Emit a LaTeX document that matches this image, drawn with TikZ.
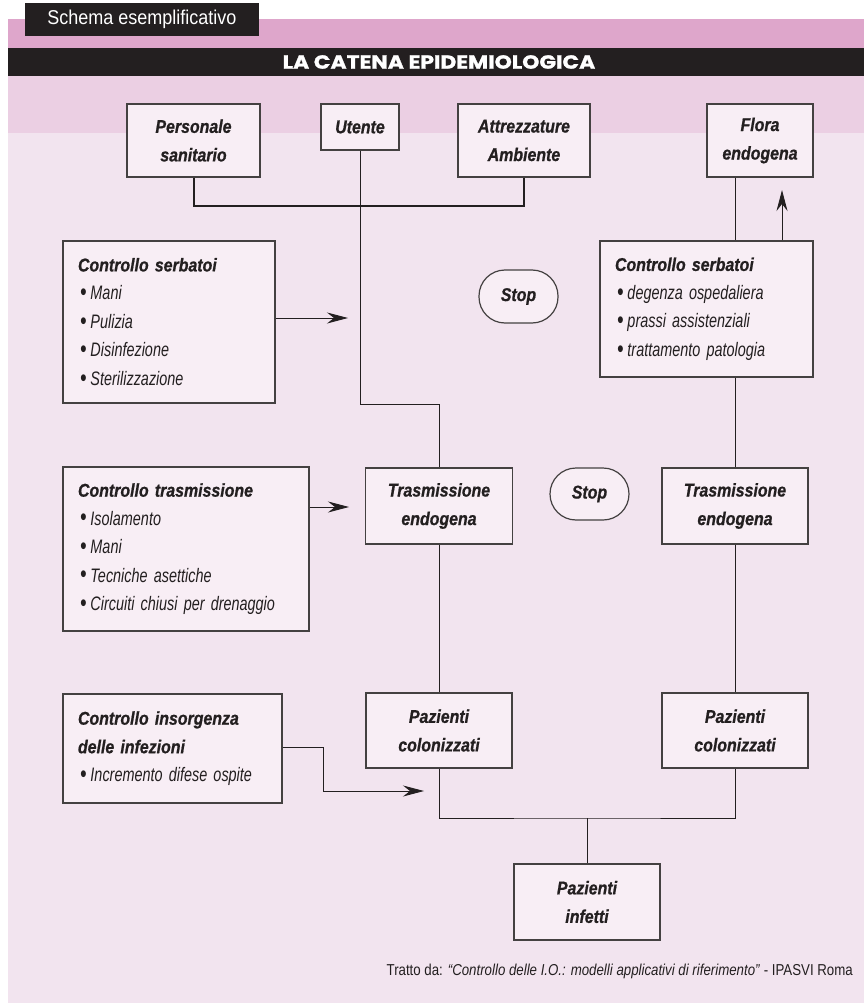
\documentclass[tikz,border=0pt]{standalone}
\usepackage{fontspec}
\setmainfont{Liberation Sans}
\newfontfamily\boxfont{Liberation Sans}[FakeStretch=0.86,FakeBold=0.8]
\newfontfamily\lightfont{Liberation Sans}[FakeStretch=0.74]
\newfontfamily\notefont{Liberation Sans}[FakeStretch=0.84]
\newfontfamily\schemafont{Liberation Sans}[FakeStretch=0.9]
\newfontfamily\headfont{Poppins}[FakeStretch=1.15,FakeBold=1.2]
\usetikzlibrary{arrows.meta}
\definecolor{ink}{HTML}{231F20}
\definecolor{bandpink}{HTML}{DEA6CB}
\definecolor{strippink}{HTML}{EBCFE3}
\definecolor{areapink}{HTML}{F2E4EF}
\definecolor{boxpink}{HTML}{F8EEF5}
\newcommand{\voce}[1]{\\\hspace*{2pt}{\lightfont\mdseries\fontsize{19.5}{28.5}\selectfont\raisebox{-0.6pt}{\fontsize{25}{0}\selectfont\textbullet}\hspace{4pt}\itshape #1}}
\begin{document}
\begin{tikzpicture}[x=1pt,y=-1pt]
  \tikzstyle{box} = [draw=ink!85,line width=1.2pt,fill=boxpink,text=ink,inner sep=0pt,align=center,font=\boxfont\bfseries\itshape\fontsize{18.5}{28.5}\selectfont];
  \tikzstyle{listbox} = [box,align=left];
  \tikzstyle{stopbox} = [box,rounded corners=26pt];
  \tikzstyle{wire} = [draw=ink,line width=0.9pt];
  \tikzstyle{arrow} = [wire,-{Stealth[length=21pt,width=11pt,inset=7pt]}];
  \useasboundingbox (0,0) rectangle (864,1003);
  % fondo e testata
  \fill[areapink] (8,133) rectangle (864,1003);
  \fill[strippink] (8,76) rectangle (864,133);
  \fill[ink] (8,48) rectangle (864,76);
  \fill[bandpink] (8,19) rectangle (864,48);
  \node[fill=ink,minimum width=234pt,minimum height=33pt,inner sep=0pt,text=white,font=\schemafont\fontsize{20}{22}\selectfont] (schema) at (142,19.5) {Schema esemplificativo};
  \node[text=white,inner sep=0pt,font=\headfont\bfseries\fontsize{19}{19}\selectfont] (titolo) at (439,62) {LA CATENA EPIDEMIOLOGICA};
  % serbatoi
  \node[box,minimum width=133pt,minimum height=73pt] (pers) at (193.5,140.5) {Personale\\sanitario};
  \node[box,minimum width=78pt,minimum height=46pt] (ute) at (360,127) {Utente};
  \node[box,minimum width=132pt,minimum height=73pt] (attr) at (524,140.5) {Attrezzature\\Ambiente};
  \node[box,minimum width=106pt,minimum height=73pt] (flora) at (760,140.5) {Flora\\endogena};
  % controlli
  \node[listbox,minimum width=212pt,minimum height=162pt,text width=182pt] (serb) at (169,322) {Controllo serbatoi\voce{Mani}\voce{Pulizia}\voce{Disinfezione}\voce{Sterilizzazione}};
  \node[listbox,minimum width=213pt,minimum height=136pt,text width=183pt] (serbb) at (706.5,309) {Controllo serbatoi\voce{degenza ospedaliera}\voce{prassi assistenziali}\voce{trattamento patologia}};
  \node[listbox,minimum width=246pt,minimum height=164pt,text width=216pt] (trasm) at (186,549) {Controllo trasmissione\voce{Isolamento}\voce{Mani}\voce{Tecniche asettiche}\voce{Circuiti chiusi per drenaggio}};
  \node[listbox,minimum width=219pt,minimum height=109pt,text width=189pt] (insorg) at (172.5,748.5) {Controllo insorgenza\\delle infezioni\voce{Incremento difese ospite}};
  \node[stopbox,minimum width=79pt,minimum height=53pt] (stopa) at (518.5,296.5) {Stop};
  \node[stopbox,minimum width=79pt,minimum height=52pt] (stopb) at (589.5,494) {Stop};
  % catena
  \node[box,minimum width=147pt,minimum height=76pt] (endoa) at (439,506) {Trasmissione\\endogena};
  \node[box,minimum width=146pt,minimum height=76pt] (endob) at (735,506) {Trasmissione\\endogena};
  \node[box,minimum width=146pt,minimum height=75pt] (cola) at (439,730.5) {Pazienti\\colonizzati};
  \node[box,minimum width=146pt,minimum height=75pt] (colb) at (735,730.5) {Pazienti\\colonizzati};
  \node[box,minimum width=146pt,minimum height=76pt] (inf) at (587,902) {Pazienti\\infetti};
  \node[anchor=base east,inner sep=0pt,text=ink,font=\notefont\fontsize{15.8}{18}\selectfont] (fonte) at (853,975) {Tratto da: \textit{“Controllo delle I.O.: modelli applicativi di riferimento”} - IPASVI Roma};
  % collegamenti
  \coordinate (bar) at (360,206);
  \coordinate (kink) at (360,404);
  \coordinate (tipa) at (348,318);
  \coordinate (tipb) at (782,190);
  \coordinate (tipc) at (349,507);
  \coordinate (bend) at (323,747);
  \coordinate (tipd) at (424,791);
  \coordinate (merge) at (587,818);
  \draw[wire,line width=2pt] (pers.south) |- (bar) -| (attr.south);
  \draw[wire] (ute.south) -- (kink) -| (endoa.north);
  \draw[wire] (flora.south -| endob.north) -- (serbb.north -| endob.north);
  \draw[wire] (serbb.south -| endob.north) -- (endob.north);
  \draw[wire] (endoa.south) -- (cola.north);
  \draw[wire] (endob.south) -- (colb.north);
  \draw[wire] (cola.south) |- (merge) -| (colb.south);
  \draw[wire] (merge) -- (inf.north);
  \draw[arrow] (serb.east |- tipa) -- (tipa);
  \draw[arrow] (serbb.north -| tipb) -- (tipb);
  \draw[arrow] (trasm.east |- tipc) -- (tipc);
  \draw[arrow] (insorg.east |- bend) -- (bend) |- (tipd);
\end{tikzpicture}
\end{document}
